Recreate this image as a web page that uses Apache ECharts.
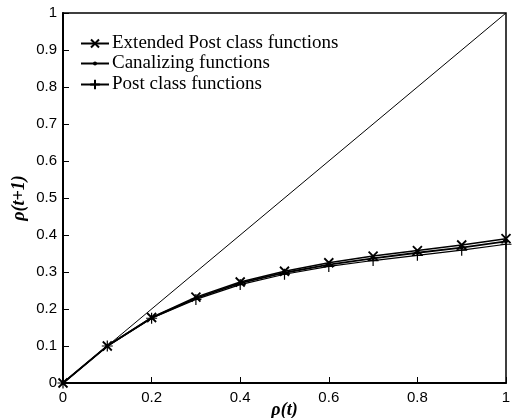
<!DOCTYPE html>
<html>
<head>
<meta charset="utf-8">
<script src="https://cdn.jsdelivr.net/npm/echarts@6/dist/echarts.min.js"></script>
<style>
html,body{margin:0;padding:0;background:#fff;}
#main{width:512px;height:418px;}
</style>
</head>
<body>
<div id="main"></div>
<script>
// rho(t) sample points
var rhoT = [0, 0.1, 0.2, 0.3, 0.4, 0.5, 0.6, 0.7, 0.8, 0.9, 1];
var extendedPost = [0, 0.1, 0.177, 0.232, 0.273, 0.302, 0.325, 0.343, 0.358, 0.373, 0.39];
var canalizing = [0, 0.1, 0.176, 0.229, 0.27, 0.298, 0.32, 0.337, 0.352, 0.366, 0.383];
var postClass = [0, 0.1, 0.175, 0.226, 0.266, 0.294, 0.315, 0.331, 0.345, 0.359, 0.375];
var identity = [[0, 0], [1, 1]];
var tickLabels = ['0', '0.1', '0.2', '0.3', '0.4', '0.5', '0.6', '0.7', '0.8', '0.9', '1'];

function pairs(ys) {
    var out = [];
    for (var i = 0; i < rhoT.length; i++) out.push([rhoT[i], ys[i]]);
    return out;
}

var myChart = echarts.init(document.getElementById('main'));

var crossPath = 'path://M0,0L10,10M10,0L0,10';
var plusPath = 'path://M5,0L5,10M0,5L10,5';

// one legend per row so each can have its own marker size
function legendRow(name, top, h) {
    return {
        left: 80, top: top, padding: 0,
        itemWidth: 28, itemHeight: h,
        textStyle: {fontFamily: 'Liberation Serif', fontSize: 19, color: '#000', padding: [0, 0, 0, -2]},
        data: [name]
    };
}

var axisFont = {fontFamily: 'Liberation Sans', fontSize: 15, color: '#000'};
var nameFont = {fontFamily: 'Liberation Serif', fontSize: 18, fontWeight: 'bold', fontStyle: 'italic', color: '#000'};

var option = {
    animation: false,
    backgroundColor: '#fff',
    grid: {
        left: 63, right: 6, top: 13, bottom: 35,
        outerBoundsMode: 'none',
        show: true, borderColor: '#000', borderWidth: 1.5
    },
    legend: [
        legendRow('Extended Post class functions', 34, 10),
        legendRow('Canalizing functions', 54, 5),
        legendRow('Post class functions', 75, 12)
    ],
    xAxis: {
        type: 'value', min: 0, max: 1, interval: 0.2,
        name: 'ρ(t)', nameLocation: 'middle', nameGap: 18, nameMoveOverlap: false,
        nameTextStyle: nameFont,
        axisLine: {lineStyle: {color: '#000', width: 2}},
        axisTick: {inside: true, length: 6, lineStyle: {color: '#000'}},
        axisLabel: Object.assign({margin: 7, formatter: function (v) { return tickLabels[Math.round(v * 10)]; }}, axisFont),
        splitLine: {show: false}
    },
    yAxis: {
        type: 'value', min: 0, max: 1, interval: 0.1,
        name: 'ρ(t+1)', nameLocation: 'middle', nameGap: 35, nameRotate: 90, nameMoveOverlap: false,
        nameTextStyle: nameFont,
        axisLine: {lineStyle: {color: '#000', width: 2}},
        axisTick: {inside: true, length: 6, lineStyle: {color: '#000'}},
        axisLabel: Object.assign({margin: 6, formatter: function (v) { return tickLabels[Math.round(v * 10)]; }}, axisFont),
        splitLine: {show: false}
    },
    series: [
        {
            name: 'identity', type: 'line', data: identity, symbol: 'none',
            lineStyle: {color: '#000', width: 1}, silent: true
        },
        {
            name: 'Post class functions', type: 'line', data: pairs(postClass),
            symbol: plusPath, symbolSize: 11,
            lineStyle: {color: '#000', width: 1.2},
            itemStyle: {color: '#000', borderColor: '#000', borderWidth: 1.2}
        },
        {
            name: 'Canalizing functions', type: 'line', data: pairs(canalizing),
            symbol: 'circle', symbolSize: 4,
            lineStyle: {color: '#000', width: 1.8},
            itemStyle: {color: '#000'}
        },
        {
            name: 'Extended Post class functions', type: 'line', data: pairs(extendedPost),
            symbol: crossPath, symbolSize: 9,
            lineStyle: {color: '#000', width: 1.5},
            itemStyle: {color: '#000', borderColor: '#000', borderWidth: 1.8}
        }
    ]
};

myChart.setOption(option);
</script>
</body>
</html>
